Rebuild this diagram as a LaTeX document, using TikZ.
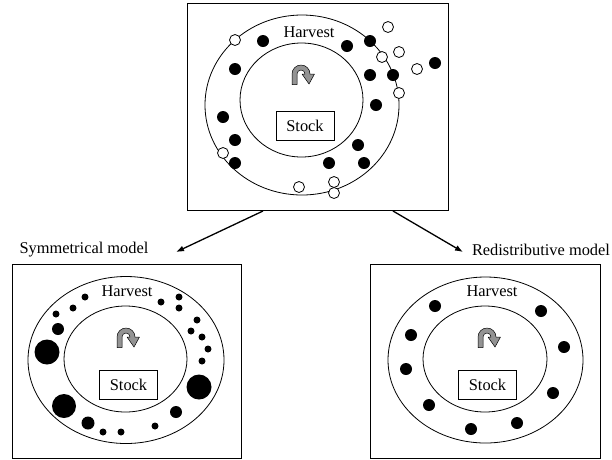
\documentclass[tikz,border=0pt]{standalone}
\usepackage{fontspec}
\setmainfont{Liberation Serif}
\usetikzlibrary{arrows.meta}

% curved gray turn arrow above the stock box
\newcommand{\turnarrow}[2]{%
  \filldraw[fill=gray!85, draw=black, line width=0.5pt, line join=round]
    (#1-9,#2+10.5) -- (#1-9,#2) arc[start angle=180, end angle=360, radius=9]
    -- (#1+13.5,#2) -- (#1+8,#2+10) -- (#1+1,#2) -- (#1+4,#2)
    arc[start angle=360, end angle=180, radius=4] -- (#1-4,#2+10.5) -- cycle;}

\begin{document}
\begin{tikzpicture}[x=1pt,y=1pt,yscale=-1,xscale=1,
    line width=0.8pt,
    txt/.style={inner sep=0.75pt, font=\fontsize{16.4}{19}\selectfont},
    stockbox/.style={draw, txt, minimum width=58, minimum height=29}]
    \useasboundingbox (0,0) rectangle (612,459); % picture size

    % Top panel
    \draw (187,3) rectangle (448,210); % frame
    \draw (302,105) ellipse [x radius=97, y radius=90]; % outer ring
    \draw (301.5,100) ellipse [x radius=61.5, y radius=57]; % inner ring
    \node[txt] (harvtop) at (309,32) {Harvest}; % Text Node Harvest
    \node[stockbox] (stocktop) at (305,125.5) {Stock}; % Text Node Stock
    \turnarrow{301}{74}
    \foreach \x/\y in {263/41, 347/46, 370/41, 235/69, 370/75, 393/75, 435/63, 376/105,
                       223/117, 235/140, 358/145, 235/163, 329/163, 364/163}
        \fill (\x,\y) circle (6); % caught
    \foreach \x/\y in {235/40, 388/27, 382/57, 399/52, 417/69, 399/93, 223/153, 299/187,
                       334/182, 334/193}
        \draw[fill=white] (\x,\y) circle (5.5); % escaped

    % Symmetrical model
    \draw (12,264) rectangle (241,458); % frame
    \draw (126,360) ellipse [x radius=98, y radius=83.5]; % outer ring
    \draw (125.5,359) ellipse [x radius=61.5, y radius=53]; % inner ring
    \node[txt] (harvsym) at (127,291) {Harvest}; % Text Node Harvest
    \node[stockbox] (stocksym) at (128.5,385) {Stock}; % Text Node Stock
    \turnarrow{126}{337}
    \foreach \x/\y/\r in {85/297/3.5, 73/308/3.5, 56/314/3.5, 58/329/6, 47/352/12.5,
                          64/406/12, 88/423/6.5, 103/432/3.5, 121/432/3.5, 155/426/3.5,
                          176/412/6, 199/387/12.5, 202/361/3.5, 208/349/3.5, 202/337/3.5,
                          191/331/3.5, 197/320/3.5, 179/308/3.5, 179/297/3.5, 161/302/3.5}
        \fill (\x,\y) circle (\r);
    \node[txt] (symlabel) at (84,250) {Symmetrical model}; % Text Node title

    % Redistributive model
    \draw (370,264) rectangle (600,458); % frame
    \draw (485.5,360) ellipse [x radius=97.5, y radius=83]; % outer ring
    \draw (485,359) ellipse [x radius=62, y radius=53]; % inner ring
    \node[txt] (harvred) at (492,291) {Harvest}; % Text Node Harvest
    \node[stockbox] (stockred) at (487.5,385) {Stock}; % Text Node Stock
    \turnarrow{487}{337}
    \foreach \x/\y in {435/306, 541/311, 411/335, 564/347, 406/369, 553/393, 429/405,
                       517/423, 471/429}
        \fill (\x,\y) circle (6);
    \node[txt] (redlabel) at (541,250) {Redistributive model}; % Text Node title

    % Arrows between panels
    \coordinate (symfrom) at (263,211);
    \coordinate (symto) at (176,252);
    \coordinate (redfrom) at (393,211);
    \coordinate (redto) at (463,252);
    \draw[line width=1.3pt, -{Latex[length=8pt,width=6pt]}] (symfrom) -- (symto);
    \draw[line width=1.3pt, -{Latex[length=8pt,width=6pt]}] (redfrom) -- (redto);
\end{tikzpicture}
\end{document}
